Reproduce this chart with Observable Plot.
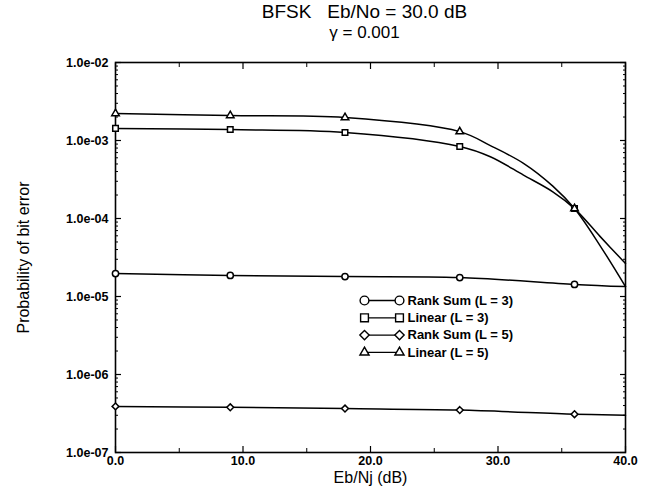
<!DOCTYPE html>
<html><head><meta charset="utf-8">
<script src="https://cdn.jsdelivr.net/npm/d3@7"></script>
<script src="https://cdn.jsdelivr.net/npm/@observablehq/plot@0.6"></script>
<style>
body{margin:0;background:#fff;font-family:"Liberation Sans",Arial,sans-serif;color:#000;}
#wrap{width:649px;height:496px;position:relative;overflow:hidden;}
#title{height:45px;box-sizing:border-box;padding-left:80px;text-align:center;}
.t1{font-size:19px;line-height:22px;padding-top:1px;white-space:pre;}
.t2{font-size:17px;line-height:20px;}
</style></head><body><div id="wrap"><div id="title"><div class="t1">BFSK   Eb/No = 30.0 dB</div><div class="t2">γ = 0.001</div></div></div>
<script>
// ---- data ----
const xTicks = [0, 10, 20, 30, 40];
const xTickLabels = ["0.0", "10.0", "20.0", "30.0", "40.0"];
const xMinorTicks = [5, 15, 25, 35];
const yTicks = [1e-7, 1e-6, 1e-5, 1e-4, 1e-3, 1e-2];
const yTickLabels = ["1.0e-07", "1.0e-06", "1.0e-05", "1.0e-04", "1.0e-03", "1.0e-02"];
const yMinorMantissas = [2, 3, 4, 5, 6, 7, 8, 9];

const markerX = [0, 9, 18, 27, 36];

const rankSumL3X = [0, 9, 18, 27, 36, 40];
const rankSumL3Y = [1.97e-5, 1.86e-5, 1.80e-5, 1.75e-5, 1.43e-5, 1.34e-5];

const linearL3X = [0, 9, 18, 27, 29.4, 32, 34.3, 36, 38, 40];
const linearL3Y = [1.43e-3, 1.38e-3, 1.27e-3, 8.4e-4, 6.2e-4, 3.6e-4, 2.2e-4, 1.34e-4, 5.9e-5, 2.65e-5];

const rankSumL5X = [0, 9, 18, 27, 36, 40];
const rankSumL5Y = [3.9e-7, 3.8e-7, 3.66e-7, 3.5e-7, 3.1e-7, 3.0e-7];

const linearL5X = [0, 9, 18, 27, 29.4, 32, 34.3, 36, 38, 40];
const linearL5Y = [2.22e-3, 2.09e-3, 1.97e-3, 1.30e-3, 8.6e-4, 5.1e-4, 2.6e-4, 1.34e-4, 4.5e-5, 1.34e-5];

const seriesNames = ["Rank Sum (L = 3)", "Linear (L = 3)", "Rank Sum (L = 5)", "Linear (L = 5)"];
const seriesSymbols = ["circle", "square", "diamond2", "triangle"];
const seriesX = [rankSumL3X, linearL3X, rankSumL5X, linearL5X];
const seriesY = [rankSumL3Y, linearL3Y, rankSumL5Y, linearL5Y];

// ---- build table ----
const symbolR = {circle: 5, square: 5, diamond2: 4.8, triangle: 4};
const rows = seriesNames.flatMap((name, s) =>
  seriesX[s].map((x, i) => ({series: name, symbol: seriesSymbols[s], x, y: seriesY[s][i], marker: markerX.includes(x)}))
);
const yMinorTicks = yTicks.slice(0, -1).flatMap(t => yMinorMantissas.map(m => m * t));
const yLab = new Map(yTicks.map((t, i) => [t, yTickLabels[i]]));
const xLab = new Map(xTicks.map((t, i) => [t, xTickLabels[i]]));

// legend marks (positioned relative to the frame's top-left corner)
const legX0 = 249, legX1 = 284, legTextX = 292, legY0 = 238, legDy = 17.3;
const hline = {draw(ctx, l) { ctx.moveTo(0, 0); ctx.lineTo(0, -l); }};
const legendMarks = seriesNames.flatMap((name, i) => [
  Plot.vector([name], {frameAnchor: "top-left", dx: legX0, dy: legY0 + i * legDy, length: legX1 - legX0, rotate: 90, anchor: "start", shape: hline, stroke: "black", strokeWidth: 1.3}),
  Plot.dot([name], {frameAnchor: "top-left", dx: legX0, dy: legY0 + i * legDy, symbol: seriesSymbols[i], r: symbolR[seriesSymbols[i]] - 0.6, stroke: "black", fill: "white", strokeWidth: 1.4}),
  Plot.dot([name], {frameAnchor: "top-left", dx: legX1, dy: legY0 + i * legDy, symbol: seriesSymbols[i], r: symbolR[seriesSymbols[i]] - 0.6, stroke: "black", fill: "white", strokeWidth: 1.4}),
  Plot.text([name], {frameAnchor: "top-left", dx: legTextX, dy: legY0 + i * legDy, text: d => d, textAnchor: "start", lineAnchor: "middle", fontSize: 13, fontWeight: "bold", fill: "black"})
]);

const chart = Plot.plot({
  width: 649, height: 451,
  marginLeft: 115, marginRight: 24, marginTop: 17, marginBottom: 44,
  style: {fontFamily: "'Liberation Sans', Arial, sans-serif", color: "black", background: "white"},
  x: {domain: [0, 40]},
  y: {type: "log", domain: [1e-7, 1e-2]},
  marks: [
    // minor ticks
    Plot.axisY(yMinorTicks, {anchor: "left", tickSize: -3, text: null, label: null, strokeWidth: 1}),
    Plot.axisY(yMinorTicks, {anchor: "right", tickSize: -3, text: null, label: null, strokeWidth: 1}),
    Plot.axisX(xMinorTicks, {anchor: "bottom", tickSize: -4, text: null, label: null, strokeWidth: 1}),
    Plot.axisX(xMinorTicks, {anchor: "top", tickSize: -4, text: null, label: null, strokeWidth: 1}),
    // major ticks + labels
    Plot.axisY(yTicks, {anchor: "left", tickSize: -6, tickPadding: 13, tickFormat: d => yLab.get(d), label: null, fontSize: 12.5, fontWeight: "bold", strokeWidth: 1.2}),
    Plot.axisY(yTicks, {anchor: "right", tickSize: -6, text: null, label: null, strokeWidth: 1.2}),
    Plot.axisX(xTicks, {anchor: "bottom", tickSize: -6, tickPadding: 10, tickFormat: d => xLab.get(d), label: null, fontSize: 12.5, fontWeight: "bold", strokeWidth: 1.2}),
    Plot.axisX(xTicks, {anchor: "top", tickSize: -6, text: null, label: null, strokeWidth: 1.2}),
    Plot.frame({stroke: "black", strokeWidth: 1.6}),
    // curves
    Plot.line(rows, {x: "x", y: "y", z: "series", curve: "catmull-rom", stroke: "black", strokeWidth: 1.5}),
    Plot.dot(rows.filter(d => d.marker), {x: "x", y: "y", symbol: "symbol", r: d => symbolR[d.symbol], stroke: "black", fill: "white", strokeWidth: 1.5}),
    ...legendMarks,
    // axis titles
    Plot.text(["Eb/Nj (dB)"], {frameAnchor: "bottom", dy: 25, text: d => d, fontSize: 16, lineAnchor: "middle", fill: "black"}),
    Plot.text(["Probability of bit error"], {frameAnchor: "left", dx: -92, rotate: -90, text: d => d, fontSize: 16, lineAnchor: "middle", textAnchor: "middle", fill: "black"})
  ]
});
document.getElementById("wrap").appendChild(chart);
</script>
</body></html>
